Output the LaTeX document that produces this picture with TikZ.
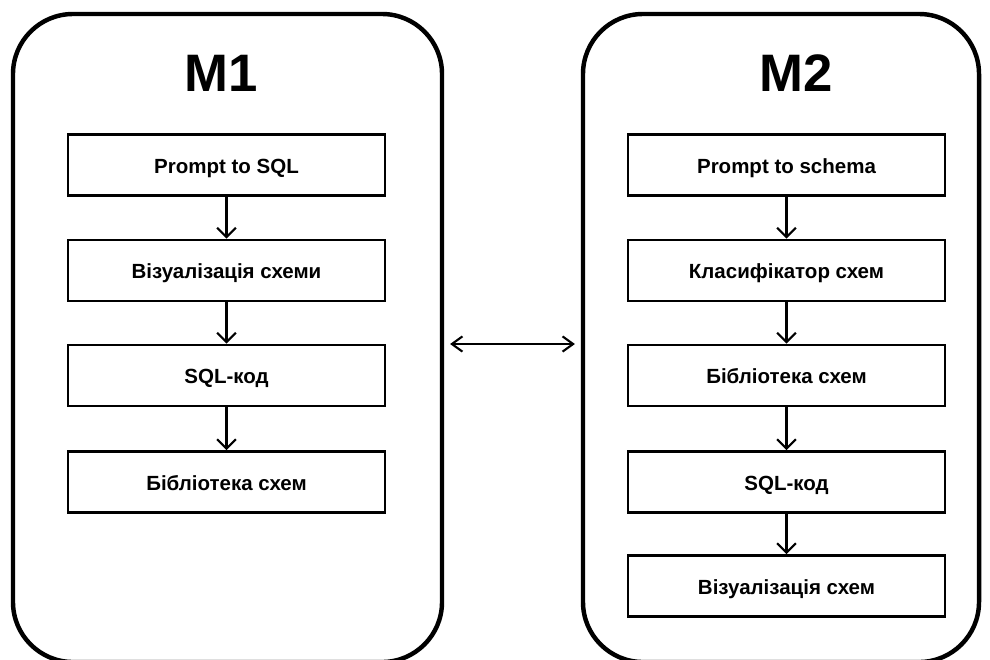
\documentclass[tikz,border=0pt]{standalone}
\usepackage{fontspec}
\setmainfont{Liberation Sans}
\usetikzlibrary{arrows.meta}

\tikzset{
  panel/.style={draw, line width=3.8pt, rounded corners=18mm, inner sep=0pt},
  title/.style={font=\fontsize{45}{48}\selectfont\bfseries},
  block/.style={draw, line width=2.5pt, fill=white, inner sep=0pt,
    minimum width=9.51cm, minimum height=1.83cm,
    text height=16pt, text depth=2pt,
    font=\fontsize{17.5}{20}\selectfont\bfseries},
  flow/.style={line width=1.8pt, -{Straight Barb[length=8pt, width=16pt, line width=1.8pt]}},
  link/.style={line width=1.8pt, {Straight Barb[length=9pt, width=13pt, line width=1.8pt]}-{Straight Barb[length=9pt, width=13pt, line width=1.8pt]}}
}

\begin{document}
\begin{tikzpicture}[x=0.03cm, y=-0.03cm]
  \useasboundingbox (0,0) rectangle (990,659);

  % Two modes.
  \node[panel, minimum width=12.87cm, minimum height=19.44cm] (m1) at (227.5,338) {};
  \node[panel, minimum width=11.88cm, minimum height=19.44cm] (m2) at (781,338) {};
  \node[title] (m1title) at (221,73) {M1};
  \node[title] (m2title) at (796,73) {M2};

  % M1 pipeline.
  \node[block] (prompt1) at (226.5,165) {Prompt to SQL};
  \node[block] (vis1) at (226.5,270.5) {Візуалізація схеми};
  \node[block] (sql1) at (226.5,375.5) {SQL-код};
  \node[block] (lib1) at (226.5,482) {Бібліотека схем};
  \draw[flow] (prompt1) -- (vis1);
  \draw[flow] (vis1) -- (sql1);
  \draw[flow] (sql1) -- (lib1);

  % M2 pipeline.
  \node[block] (prompt2) at (786.5,165) {Prompt to schema};
  \node[block] (class2) at (786.5,270.5) {Класифікатор схем};
  \node[block] (lib2) at (786.5,375.5) {Бібліотека схем};
  \node[block] (sql2) at (786.5,482) {SQL-код};
  \node[block] (vis2) at (786.5,586) {Візуалізація схем};
  \draw[flow] (prompt2) -- (class2);
  \draw[flow] (class2) -- (lib2);
  \draw[flow] (lib2) -- (sql2);
  \draw[flow] (sql2) -- (vis2);

  % Link between modes.
  \draw[link, shorten <=5pt, shorten >=5pt] ([yshift=-0.18cm]m1.east) -- ([yshift=-0.18cm]m2.west);
\end{tikzpicture}
\end{document}
